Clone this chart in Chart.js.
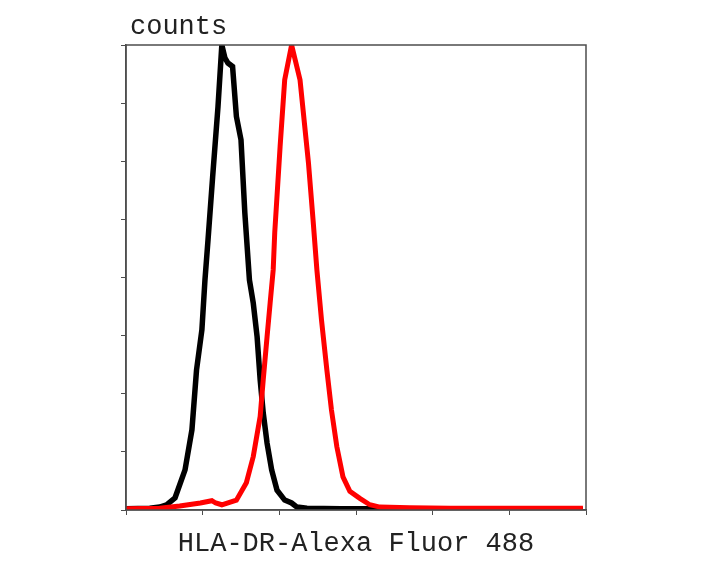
<!DOCTYPE html>
<html>
<head>
<meta charset="utf-8">
<script src="https://cdn.jsdelivr.net/npm/chart.js@4"></script>
<style>
  html, body { margin: 0; padding: 0; background: #fff; }
  #wrap { width: 706px; height: 565px; }
</style>
</head>
<body>
<div id="wrap"><canvas id="chart" width="706" height="565"></canvas></div>
<script>
// histogram channels (x) and counts (y)
const blackX = [0, 31, 44, 53, 64, 77, 86, 92, 99, 103, 107, 113, 120, 125, 129, 133, 139, 144, 150, 155, 161, 166, 171, 175, 179, 184, 190, 197, 207, 216, 223, 236, 280, 331, 400, 500, 596];
const blackY = [2, 3, 5, 9, 21, 69, 138, 241, 310, 396, 465, 573, 694, 800, 778, 769, 763, 677, 637, 511, 396, 356, 298, 224, 167, 115, 69, 34, 17, 12, 5, 3, 2, 2, 1, 1, 1];

const redX = [0, 44, 70, 97, 112, 117, 125, 144, 157, 166, 175, 179, 184, 188, 192, 194, 201, 207, 216, 227, 238, 244, 249, 255, 262, 268, 275, 283, 292, 305, 318, 331, 370, 423, 596];
const redY = [2, 3, 7, 12, 16, 12, 9, 17, 47, 92, 161, 224, 298, 356, 413, 477, 625, 740, 800, 740, 597, 499, 413, 327, 241, 172, 109, 57, 32, 20, 9, 5, 4, 3, 3];

const xTicks = [0, 100, 200, 300, 400, 500, 600];
const yTicks = [0, 100, 200, 300, 400, 500, 600, 700, 800];

const yLabel = 'counts';
const xLabel = 'HLA-DR-Alexa Fluor 488';

const FONT = "'Liberation Mono', 'DejaVu Sans Mono', monospace";

function toPoints(xs, ys) {
  return xs.map((x, i) => ({ x, y: ys[i] }));
}

// frame around the plot + the "counts" label above it
const framePlugin = {
  id: 'frame',
  afterDatasetsDraw(chart) {
    const { ctx, chartArea: a } = chart;
    ctx.save();
    ctx.strokeStyle = '#4d4d4d';
    ctx.lineWidth = 1.5;
    ctx.strokeRect(a.left, a.top, a.right - a.left, a.bottom - a.top);
    ctx.restore();
  },
  afterDraw(chart) {
    const { ctx, chartArea: a } = chart;
    ctx.save();
    ctx.font = `27px ${FONT}`;
    ctx.fillStyle = '#222';
    ctx.textBaseline = 'alphabetic';
    ctx.fillText(yLabel, a.left + 4, a.top - 11);
    ctx.restore();
  }
};

new Chart(document.getElementById('chart'), {
  type: 'line',
  data: {
    datasets: [
      {
        label: 'HLA-DR',
        data: toPoints(redX, redY),
        borderColor: '#ff0000',
        borderWidth: 5,
        pointRadius: 0,
        tension: 0,
        fill: false
      },
      {
        label: 'control',
        data: toPoints(blackX, blackY),
        borderColor: '#000000',
        borderWidth: 5.5,
        pointRadius: 0,
        tension: 0,
        fill: false
      }
    ]
  },
  plugins: [framePlugin],
  options: {
    responsive: false,
    animation: false,
    layout: { padding: { top: 45, right: 120, left: 0, bottom: 0 } },
    plugins: {
      legend: { display: false },
      tooltip: { enabled: false }
    },
    scales: {
      x: {
        type: 'linear',
        min: 0,
        max: 600,
        afterBuildTicks: (scale) => { scale.ticks = xTicks.map((v) => ({ value: v })); },
        afterFit: (scale) => { scale.height = 55; },
        ticks: { display: false },
        grid: {
          drawOnChartArea: false,
          drawTicks: true,
          tickLength: 5,
          color: '#4d4d4d'
        },
        border: { color: '#4d4d4d', width: 1.5 },
        title: {
          display: true,
          text: xLabel,
          color: '#222',
          font: { family: FONT, size: 27 },
          padding: { top: 0, bottom: 5 }
        }
      },
      y: {
        type: 'linear',
        min: 0,
        max: 800,
        afterBuildTicks: (scale) => { scale.ticks = yTicks.map((v) => ({ value: v })); },
        afterFit: (scale) => { scale.width = 126; },
        ticks: { display: false },
        grid: {
          drawOnChartArea: false,
          drawTicks: true,
          tickLength: 5,
          color: '#4d4d4d'
        },
        border: { color: '#4d4d4d', width: 1.5 }
      }
    }
  }
});
</script>
</body>
</html>
